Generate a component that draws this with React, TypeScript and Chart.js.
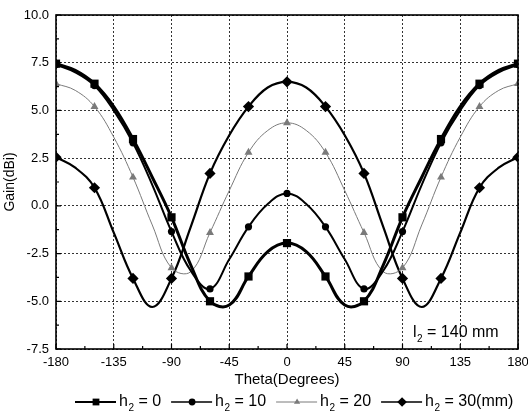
import React, { useEffect, useRef } from 'react';
import { Chart, registerables } from 'chart.js';

Chart.register(...registerables);

// ---- data ----
const thetas = [-180, -165, -150, -135, -120, -105, -90, -75, -60, -45, -30, -15, 0, 15, 30, 45, 60, 75, 90, 105, 120, 135, 150, 165, 180];
const gainH0 = [7.45, 7.1, 6.4, 5.2, 3.5, 1.5, -0.6, -3.1, -5.0, -5.2, -3.7, -2.4, -1.95, -2.4, -3.7, -5.2, -5.0, -3.1, -0.6, 1.5, 3.5, 5.2, 6.4, 7.1, 7.45];
const gainH10 = [7.4, 7.0, 6.3, 5.0, 3.3, 1.1, -1.35, -3.4, -4.35, -2.8, -1.1, 0.1, 0.65, 0.1, -1.1, -2.8, -4.35, -3.4, -1.35, 1.1, 3.3, 5.0, 6.3, 7.0, 7.4];
const gainH20 = [6.4, 6.05, 5.2, 3.6, 1.5, -1.0, -3.25, -3.45, -1.4, 0.8, 2.8, 3.95, 4.35, 3.95, 2.8, 0.8, -1.4, -3.45, -3.25, -1.0, 1.5, 3.6, 5.2, 6.05, 6.4];
const gainH30 = [2.55, 2.0, 0.95, -1.4, -3.8, -5.3, -3.8, -1.1, 1.7, 3.7, 5.2, 6.2, 6.5, 6.2, 5.2, 3.7, 1.7, -1.1, -3.8, -5.3, -3.8, -1.4, 0.95, 2.0, 2.55];
const seriesValues = ['0', '10', '20', '30'];
const xMin = -180, xMax = 180, xStep = 45;
const yMin = -7.5, yMax = 10, yStep = 2.5;
const xTitle = 'Theta(Degrees)';
const yTitle = 'Gain(dBi)';
const noteText = ' = 140 mm';

type Style = { color: string; width: number; point: string; radius: number; legendRadius: number };
const styles: Style[] = [
  { color: '#000000', width: 3, point: 'rect', radius: 5.8, legendRadius: 4.8 },
  { color: '#000000', width: 2, point: 'circle', radius: 3.6, legendRadius: 3.4 },
  { color: '#7a7a7a', width: 1, point: 'triangle', radius: 4.6, legendRadius: 3.6 },
  { color: '#000000', width: 2.2, point: 'rectRot', radius: 5.6, legendRadius: 4.8 },
];
const allSeries = [gainH0, gainH10, gainH20, gainH30];
const FONT = '"Liberation Sans", Arial, sans-serif';

function drawMarker(ctx: CanvasRenderingContext2D, style: string, x: number, y: number, r: number, color: string) {
  ctx.save();
  ctx.fillStyle = color;
  ctx.beginPath();
  if (style === 'rect') {
    const s = r * Math.SQRT1_2;
    ctx.rect(x - s, y - s, 2 * s, 2 * s);
  } else if (style === 'circle') {
    ctx.arc(x, y, r, 0, Math.PI * 2);
  } else if (style === 'triangle') {
    ctx.moveTo(x, y - r);
    ctx.lineTo(x + r * 0.866, y + r * 0.5);
    ctx.lineTo(x - r * 0.866, y + r * 0.5);
    ctx.closePath();
  } else {
    ctx.moveTo(x, y - r);
    ctx.lineTo(x + r, y);
    ctx.lineTo(x, y + r);
    ctx.lineTo(x - r, y);
    ctx.closePath();
  }
  ctx.fill();
  ctx.restore();
}

function drawSubText(ctx: CanvasRenderingContext2D, base: string, rest: string, x: number, y: number, size: number) {
  ctx.font = `${size}px ${FONT}`;
  ctx.textBaseline = 'middle';
  ctx.textAlign = 'left';
  ctx.fillStyle = '#000';
  ctx.fillText(base, x, y);
  let cx = x + ctx.measureText(base).width + 0.5;
  ctx.font = `${Math.round(size * 0.6)}px ${FONT}`;
  ctx.fillText('2', cx, y + size * 0.38);
  cx += ctx.measureText('2').width;
  ctx.font = `${size}px ${FONT}`;
  ctx.fillText(rest, cx, y);
  return cx + ctx.measureText(rest).width;
}

const framePlugin = {
  id: 'frameAndExtras',
  afterDraw(chart: any) {
    const ctx: CanvasRenderingContext2D = chart.ctx;
    const { left, right, top, bottom } = chart.chartArea;
    const xs = chart.scales.x;
    const ys = chart.scales.y;
    ctx.save();
    // frame
    ctx.strokeStyle = '#000';
    ctx.lineWidth = 1.6;
    ctx.strokeRect(left, top, right - left, bottom - top);
    // inward ticks
    ctx.lineWidth = 1.2;
    ctx.beginPath();
    for (let v = xMin; v <= xMax + 1e-9; v += xStep / 2) {
      const px = xs.getPixelForValue(v);
      const major = Math.abs(v / xStep - Math.round(v / xStep)) < 1e-6;
      ctx.moveTo(px, bottom);
      ctx.lineTo(px, bottom - (major ? 5 : 3));
    }
    for (let v = yMin; v <= yMax + 1e-9; v += yStep / 2) {
      const py = ys.getPixelForValue(v);
      const major = Math.abs((v - yMin) / yStep - Math.round((v - yMin) / yStep)) < 1e-6;
      ctx.moveTo(left, py);
      ctx.lineTo(left + (major ? 5 : 3), py);
    }
    ctx.stroke();

    // note
    drawSubText(ctx, 'l', noteText, right - 105, bottom - 16, 16);

    // legend
    const ly = 402;
    let lx = 75;
    styles.forEach((st, i) => {
      ctx.strokeStyle = st.color;
      ctx.lineWidth = Math.max(1, st.width * 0.7);
      ctx.beginPath();
      ctx.moveTo(lx, ly);
      ctx.lineTo(lx + 41, ly);
      ctx.stroke();
      drawMarker(ctx, st.point, lx + 21, ly, st.legendRadius, st.color);
      const label = ' = ' + seriesValues[i] + (i === styles.length - 1 ? '(mm)' : '');
      const end = drawSubText(ctx, 'h', label, lx + 44, ly, 16);
      lx = end + 10;
    });
    ctx.restore();
  },
};

export default function App() {
  const ref = useRef<HTMLCanvasElement | null>(null);
  useEffect(() => {
    document.body.style.margin = '0';
    const canvas = ref.current;
    if (!canvas) return;
    const datasets = styles.map((st, i) => ({
      label: 'h2 = ' + seriesValues[i],
      data: thetas.map((t, k) => ({ x: t, y: allSeries[i][k] })),
      borderColor: st.color,
      backgroundColor: st.color,
      borderWidth: st.width,
      pointStyle: st.point,
      pointRadius: (c: any) => (c.dataIndex % 2 === 0 ? st.radius : 0),
      pointBorderWidth: 0,
      pointBackgroundColor: st.color,
      tension: 0.4,
      fill: false,
    }));
    const chart = new Chart(canvas, {
      type: 'line',
      data: { datasets },
      options: {
        animation: false,
        responsive: false,
        devicePixelRatio: 1,
        layout: { padding: { top: 15, right: 10, bottom: 26, left: 0 } },
        plugins: { legend: { display: false }, tooltip: { enabled: false } },
        scales: {
          x: {
            type: 'linear',
            min: xMin,
            max: xMax,
            afterFit: (s: any) => { s.height = 40; s.paddingRight = 0; s.paddingLeft = 0; },
            ticks: { stepSize: xStep, padding: 6, color: '#000', font: { family: FONT, size: 13 } },
            grid: { color: '#333', lineWidth: 1, drawTicks: false },
            border: { display: false, dash: [2, 2] },
            title: { display: true, text: xTitle, color: '#000', padding: 0, font: { family: FONT, size: 15 } },
          },
          y: {
            type: 'linear',
            min: yMin,
            max: yMax,
            afterFit: (s: any) => { s.width = 56; s.paddingTop = 0; s.paddingBottom = 0; },
            ticks: {
              stepSize: yStep,
              padding: 7,
              color: '#000',
              font: { family: FONT, size: 13 },
              callback: (v: any) => Number(v).toFixed(1),
            },
            grid: { color: '#333', lineWidth: 1, drawTicks: false },
            border: { display: false, dash: [2, 2] },
            title: { display: true, text: yTitle, color: '#000', padding: { top: 2, bottom: 0 }, font: { family: FONT, size: 14 } },
          },
        },
      },
      plugins: [framePlugin],
    } as any);
    return () => chart.destroy();
  }, []);
  return (
    <div style={{ position: 'absolute', left: 0, top: 0, width: 528, height: 415, background: '#fff' }}>
      <canvas ref={ref} width={528} height={415} style={{ width: 528, height: 415, display: 'block' }} />
    </div>
  );
}
